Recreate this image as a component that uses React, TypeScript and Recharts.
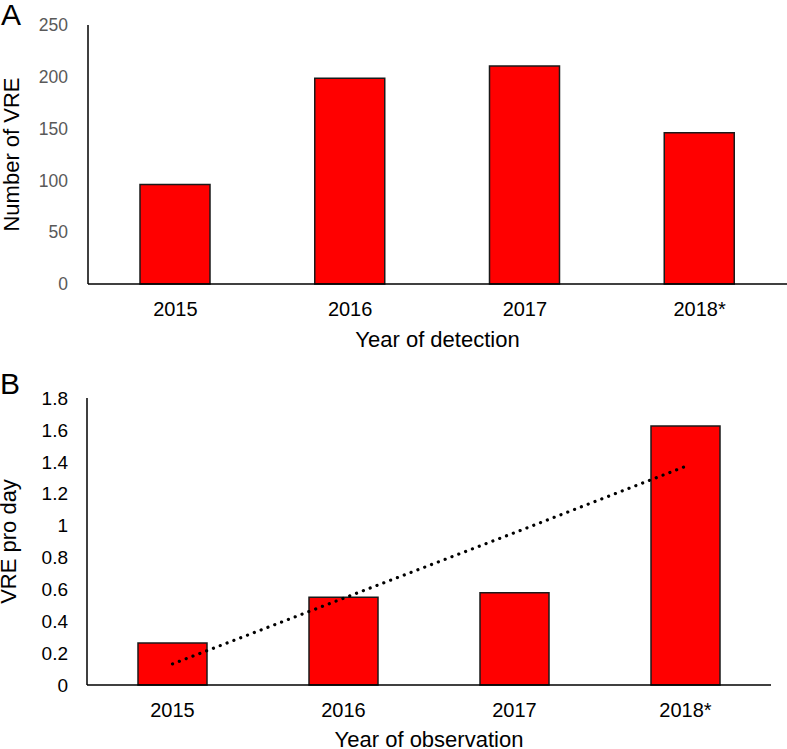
import React from 'react';
import { ComposedChart, Bar, Line, XAxis, YAxis } from 'recharts';

const years = ['2015', '2016', '2017', '2018*'];
const vreCount = [96, 198.5, 210.5, 146];
const vrePerDay = [0.263, 0.55, 0.579, 1.625];
const trendPerDay = [0.132, 0.544, 0.955, 1.371];
const countTicks = [0, 50, 100, 150, 200, 250];
const perDayTicks = [0, 0.2, 0.4, 0.6, 0.8, 1, 1.2, 1.4, 1.6, 1.8];

const dataA = years.map((year, i) => ({ year, count: vreCount[i] }));
const dataB = years.map((year, i) => ({ year, perDay: vrePerDay[i], trend: trendPerDay[i] }));

const FONT = '"Liberation Sans", Arial, sans-serif';
const RED = '#ff0000';
const EDGE = '#1a1a1a';
const AXIS = '#000';

const panelLabel: React.CSSProperties = {
  position: 'absolute',
  fontFamily: FONT,
  fontSize: 30,
  lineHeight: '30px',
  color: '#000',
};

const App: React.FC = () => {
  return (
    <div style={{ position: 'absolute', left: 0, top: 0, width: 787, height: 749, background: '#fff', fontFamily: FONT }}>
      <div style={{ ...panelLabel, left: 1, top: 0 }}>A</div>
      <div style={{ ...panelLabel, left: 0, top: 369 }}>B</div>

      <div style={{ position: 'absolute', left: 0, top: 0 }}>
        <ComposedChart width={787} height={360} data={dataA} margin={{ top: 25, right: 0, bottom: 0, left: 0 }}>
          <XAxis
            dataKey="year"
            height={76}
            tickSize={0}
            tickMargin={18}
            axisLine={{ stroke: AXIS, strokeWidth: 1.5 }}
            tick={{ fill: '#000', fontSize: 20, fontFamily: FONT }}
            label={{ value: 'Year of detection', position: 'insideBottom', offset: 13, fill: '#000', fontSize: 22, fontFamily: FONT }}
          />
          <YAxis
            width={88}
            domain={[0, 250]}
            ticks={countTicks}
            tickSize={0}
            tickMargin={20}
            axisLine={{ stroke: AXIS, strokeWidth: 1.5 }}
            tick={{ fill: '#595959', fontSize: 17.5, fontFamily: FONT }}
            label={{ value: 'Number of VRE', angle: -90, position: 'insideLeft', offset: 11, fill: '#000', fontSize: 22, fontFamily: FONT, style: { textAnchor: 'middle' } }}
          />
          <Bar dataKey="count" barSize={70} fill={RED} stroke={EDGE} strokeWidth={1.5} isAnimationActive={false} />
        </ComposedChart>
      </div>

      <div style={{ position: 'absolute', left: 0, top: 360 }}>
        <ComposedChart width={787} height={389} data={dataB} margin={{ top: 38, right: 16, bottom: 0, left: 0 }}>
          <XAxis
            dataKey="year"
            height={64}
            tickSize={0}
            tickMargin={18}
            axisLine={{ stroke: AXIS, strokeWidth: 1.5 }}
            tick={{ fill: '#000', fontSize: 20, fontFamily: FONT }}
            label={{ value: 'Year of observation', position: 'insideBottom', offset: 2, fill: '#000', fontSize: 22, fontFamily: FONT }}
          />
          <YAxis
            width={87}
            domain={[0, 1.8]}
            ticks={perDayTicks}
            tickSize={0}
            tickMargin={19}
            axisLine={{ stroke: AXIS, strokeWidth: 1.5 }}
            tick={{ fill: '#000', fontSize: 19, fontFamily: FONT }}
            label={{ value: 'VRE pro day', angle: -90, position: 'insideLeft', offset: 8, fill: '#000', fontSize: 22, fontFamily: FONT, style: { textAnchor: 'middle' } }}
          />
          <Bar dataKey="perDay" barSize={69} fill={RED} stroke={EDGE} strokeWidth={1.5} isAnimationActive={false} />
          <Line
            dataKey="trend"
            type="linear"
            stroke="#000"
            strokeWidth={3.2}
            strokeDasharray="0.1 7.2"
            strokeLinecap="round"
            dot={false}
            activeDot={false}
            isAnimationActive={false}
          />
        </ComposedChart>
      </div>
    </div>
  );
};

export default App;
